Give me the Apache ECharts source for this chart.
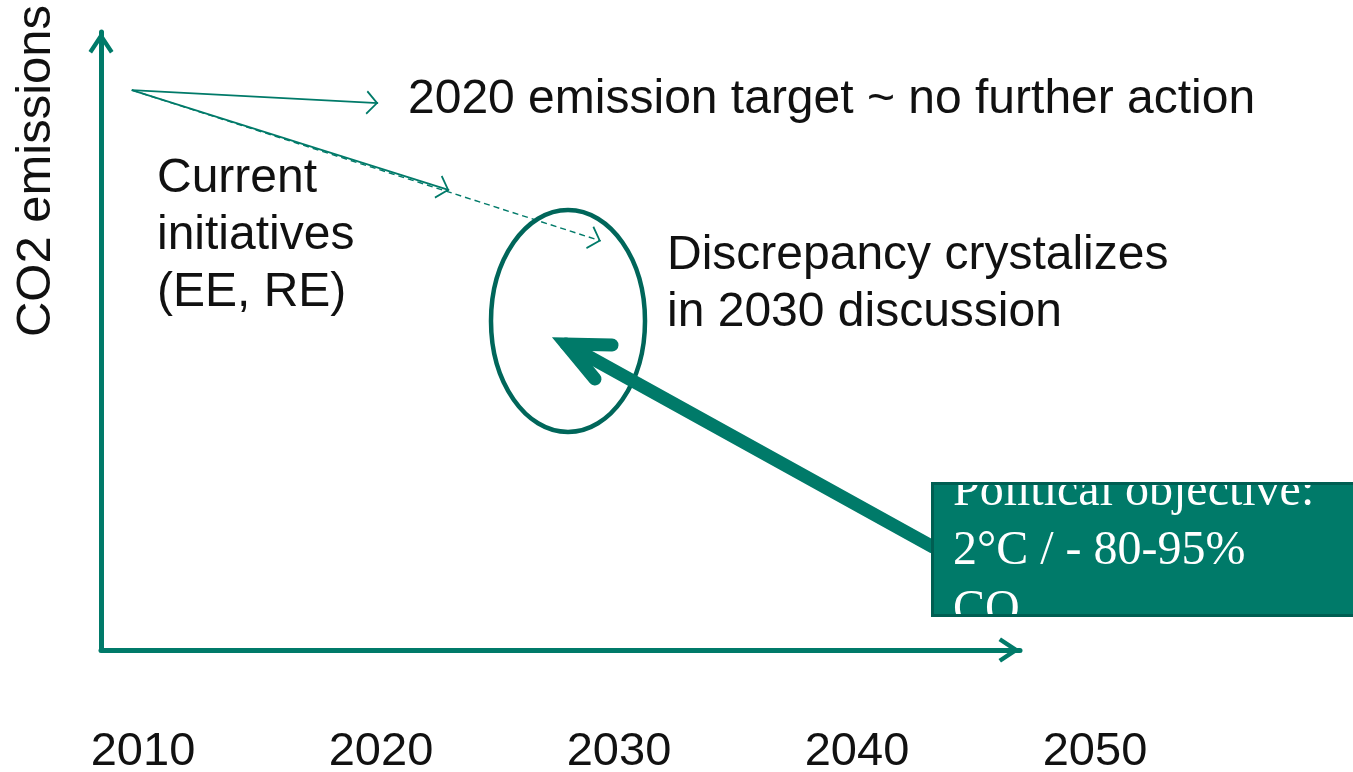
<!DOCTYPE html>
<html>
<head>
<meta charset="utf-8">
<script src="https://cdn.jsdelivr.net/npm/echarts@6/dist/echarts.min.js"></script>
<style>
  html, body { margin: 0; padding: 0; background: #fff; }
  #chart { width: 1353px; height: 772px; }
</style>
</head>
<body>
<div id="chart"></div>
<script>
// tick labels under the time axis
const yearLabels = ['2010', '2020', '2030', '2040', '2050'];

// emission paths (year, relative CO2 level)
const startPoint = [2009.5, 90.6];
const targetEnd = [2019.9, 88.5];
const initiativesEnd = [2022.9, 74.4];
const trendEnd = [2029.3, 66.2];

const TEAL = '#007a69';
const DARK_TEAL = '#00665a';
const INK = '#111111';
const SANS = 'Liberation Sans';

// open chevrons, tip at the centre of the path box
const axisArrow = 'path://M0,-21.5L0.01,-21.5M0,0L12.5,19L9,21.5L0,8L-9,21.5L-12.5,19Z';
const thinArrow = 'path://M0,-12L0.01,-12M0,0L10,11L8.8,12.2L0,2.4L-8.8,12.2L-10,11Z';

const chart = echarts.init(document.getElementById('chart'), null, { renderer: 'canvas' });

function hiddenAxisParts() {
  return {
    axisTick: { show: false },
    axisLabel: { show: false },
    splitLine: { show: false },
  };
}

chart.setOption({
  animation: false,
  backgroundColor: '#fff',
  grid: [
    { left: 101, right: 333, top: 32, bottom: 122, outerBoundsMode: 'none' },
    { left: 24, right: 139, top: 698, height: 28, outerBoundsMode: 'none' },
  ],
  xAxis: [
    {
      type: 'value', gridIndex: 0, min: 2008.2, max: 2047,
      axisLine: {
        show: true, symbol: ['none', axisArrow], symbolSize: [25, 43],
        lineStyle: { color: TEAL, width: 5 },
      },
      ...hiddenAxisParts(),
    },
    {
      type: 'category', gridIndex: 1, data: yearLabels,
      axisLine: { show: false },
      axisTick: { show: false },
      splitLine: { show: false },
      axisLabel: {
        show: true, margin: 3,
        fontSize: 47, fontFamily: SANS, color: INK,
      },
    },
  ],
  yAxis: [
    {
      type: 'value', gridIndex: 0, min: 0, max: 100,
      axisLine: {
        show: true, symbol: ['none', axisArrow], symbolSize: [25, 43],
        lineStyle: { color: TEAL, width: 5 },
      },
      ...hiddenAxisParts(),
    },
    {
      type: 'value', gridIndex: 1, min: -1, max: 1, show: false,
    },
  ],
  series: [
    {
      name: 'paths',
      type: 'lines',
      coordinateSystem: 'cartesian2d',
      xAxisIndex: 0,
      yAxisIndex: 0,
      symbol: ['none', thinArrow],
      symbolSize: [20, 24],
      silent: true,
      data: [
        { coords: [startPoint, trendEnd], lineStyle: { color: TEAL, width: 1.4, type: [6, 4], opacity: 1 } },
        { coords: [startPoint, targetEnd], lineStyle: { color: TEAL, width: 1.8, opacity: 1 } },
        { coords: [startPoint, initiativesEnd], lineStyle: { color: TEAL, width: 1.8, opacity: 1 } },
      ],
    },
  ],
  graphic: [
    {
      type: 'text', x: 36, y: 171, rotation: Math.PI / 2, z: 3,
      style: { text: 'CO2 emissions', fontSize: 49, fontFamily: SANS, fill: INK, align: 'center', verticalAlign: 'middle' },
    },
    {
      type: 'text', x: 408, y: 100, z: 3,
      style: { text: '2020 emission target ~ no further action', fontSize: 48, fontFamily: SANS, fill: INK, verticalAlign: 'middle' },
    },
    {
      type: 'text', x: 157, y: 236, z: 3,
      style: { text: 'Current\ninitiatives\n(EE, RE)', fontSize: 48, lineHeight: 57, fontFamily: SANS, fill: INK, verticalAlign: 'middle' },
    },
    {
      type: 'text', x: 667, y: 284, z: 3,
      style: { text: 'Discrepancy crystalizes\nin 2030 discussion', fontSize: 48, lineHeight: 57, fontFamily: SANS, fill: INK, verticalAlign: 'middle' },
    },
    {
      type: 'ellipse', z: 4,
      shape: { cx: 568, cy: 321, rx: 77, ry: 111 },
      style: { fill: 'none', stroke: DARK_TEAL, lineWidth: 4.5 },
    },
    {
      type: 'polyline', z: 5,
      shape: { points: [[566, 344], [933, 547]] },
      style: { stroke: TEAL, lineWidth: 13, lineCap: 'round' },
    },
    {
      type: 'polyline', z: 5,
      shape: { points: [[612, 345], [566, 344], [595, 379]] },
      style: { stroke: TEAL, lineWidth: 13, lineCap: 'round', lineJoin: 'miter', fill: 'none' },
    },
    {
      type: 'rect', z: 10,
      shape: { x: 931, y: 482, width: 440, height: 135 },
      style: { fill: TEAL },
    },
    {
      type: 'text', x: 953, y: 551, z: 11,
      style: { text: 'Political objective:\n2°C / - 80-95%\nCO₂', fontSize: 48, lineHeight: 59, fontFamily: 'Liberation Serif', fill: '#fff', verticalAlign: 'middle' },
    },
    {
      type: 'rect', z: 12,
      shape: { x: 933, y: 430, width: 430, height: 51 },
      style: { fill: '#fff' },
    },
    {
      type: 'rect', z: 12,
      shape: { x: 933, y: 619, width: 430, height: 14 },
      style: { fill: '#fff' },
    },
    {
      type: 'rect', z: 13,
      shape: { x: 932.5, y: 483.5, width: 440, height: 132 },
      style: { fill: 'none', stroke: '#005e52', lineWidth: 3 },
    },
  ],
});
</script>
</body>
</html>
